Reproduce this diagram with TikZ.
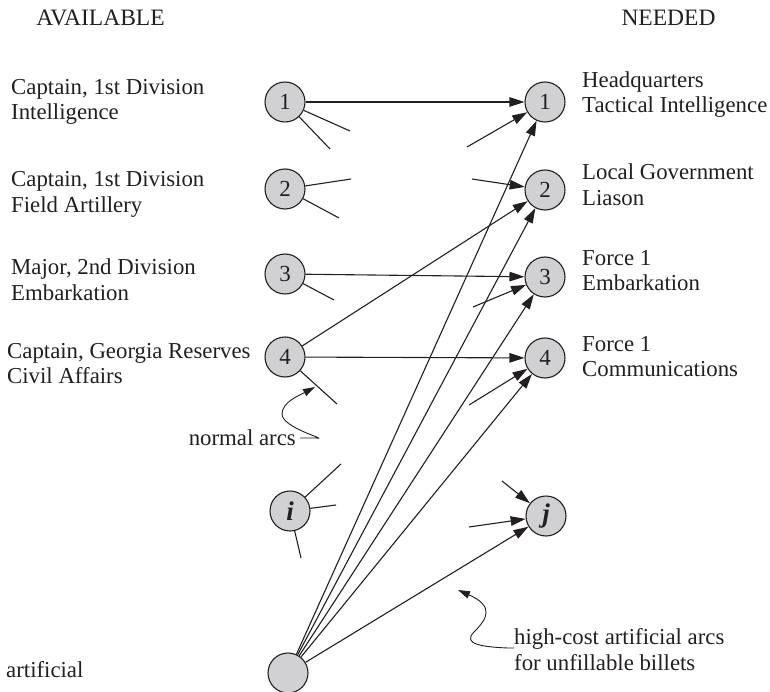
\documentclass[tikz,border=0pt]{standalone}
\usepackage{fontspec}
\setmainfont{Liberation Serif}
\usetikzlibrary{arrows.meta}
\definecolor{nodegray}{RGB}{209,209,211}
\definecolor{ink}{RGB}{35,31,32}
\begin{document}
\begin{tikzpicture}[x=1pt,y=-1pt,
  vert/.style={circle,draw=ink,fill=nodegray,line width=1.1pt,minimum size=40pt,inner sep=0pt,
    font=\fontsize{23}{23}\selectfont,text=ink},
  generic/.style={font=\fontsize{27}{27}\selectfont\bfseries\itshape},
  lab/.style={align=left,inner sep=0pt,text=ink,font=\fontsize{22.8}{25.5}\selectfont},
  head/.style={inner sep=0pt,text=ink,font=\fontsize{23.5}{25.5}\selectfont},
  stub/.style={draw=ink,line width=1.1pt},
  arc/.style={draw=ink,line width=1.1pt,-{Triangle[length=15pt,width=9.5pt]}},
  pointer/.style={draw=ink,line width=0.9pt,-{Triangle[length=12pt,width=7.5pt]}}]
\useasboundingbox (0,0) rectangle (770,692);

% column headings
\node[head] (hav) at (100.5,18) {AVAILABLE};
\node[head] (hnd) at (668.5,18) {NEEDED};

% available people
\node[vert] (L1) at (285,102) {1};
\node[vert] (L2) at (285,189) {2};
\node[vert] (L3) at (285,274) {3};
\node[vert] (L4) at (285,357) {4};
\node[vert,generic] (Li) at (290,511) {i};
\node[vert] (A)  at (288,673) {};

% needed billets
\node[vert] (R1) at (545,102) {1};
\node[vert] (R2) at (545,190) {2};
\node[vert] (R3) at (545,277) {3};
\node[vert] (R4) at (545,358) {4};
\node[vert,generic] (Rj) at (546,516) {j};

% left-hand labels
\node[lab,anchor=west] (t1) at (11,102) {Captain, 1st Division\\Intelligence};
\node[lab,anchor=west] (t2) at (11,194.5) {Captain, 1st Division\\Field Artillery};
\node[lab,anchor=west] (t3) at (11,279.5) {Major, 2nd Division\\Embarkation};
\node[lab,anchor=west] (t4) at (7,363.5) {Captain, Georgia Reserves\\Civil Affairs};
\node[lab,anchor=west] (ta) at (6,670) {artificial};

% right-hand labels
\node[lab,anchor=west] (u1) at (582,94.5) {Headquarters\\Tactical Intelligence};
\node[lab,anchor=west] (u2) at (582,184.5) {Local Government\\Liason};
\node[lab,anchor=west] (u3) at (582,270.5) {Force 1\\Embarkation};
\node[lab,anchor=west] (u4) at (582,356.5) {Force 1\\Communications};

% loose ends of arcs leaving the available side
\coordinate (a1) at (350,131); \coordinate (a2) at (330,149);
\coordinate (b1) at (351,179); \coordinate (b2) at (339,218);
\coordinate (c1) at (334,300);
\coordinate (d1) at (337,404);
\coordinate (e1) at (341,464); \coordinate (e2) at (336,505); \coordinate (e3) at (301,558);
% loose ends of arcs entering the needed side
\coordinate (p1) at (467,147);
\coordinate (p2) at (472,179);
\coordinate (p3) at (473,307);
\coordinate (p4) at (469,405);
\coordinate (q1) at (502,481); \coordinate (q2) at (469,527);

\draw[stub] (L1) -- (a1); \draw[stub] (L1) -- (a2);
\draw[stub] (L2) -- (b1); \draw[stub] (L2) -- (b2);
\draw[stub] (L3) -- (c1);
\draw[stub] (L4) -- (d1);
\draw[stub] (Li) -- (e1); \draw[stub] (Li) -- (e2); \draw[stub] (Li) -- (e3);

\draw[arc] (p1) -- (R1);
\draw[arc] (p2) -- (R2);
\draw[arc] (p3) -- (R3);
\draw[arc] (p4) -- (R4);
\draw[arc] (q1) -- (Rj);
\draw[arc] (q2) -- (Rj);

% normal arcs
\draw[arc] (L1) -- (R1);
\draw[arc] (L3) -- (R3);
\draw[arc] (L4) -- (R4);
\draw[arc] (L4) -- (R2);

% high-cost artificial arcs
\draw[arc] (A) -- (R1);
\draw[arc] (A) -- (R2);
\draw[arc] (A) -- (R3);
\draw[arc] (A) -- (R4);
\draw[arc] (A) -- (Rj);

% annotations with curly pointers
\node[lab,anchor=east] (nlab) at (296,438) {normal arcs};
\coordinate (ntip) at (315,387);
\draw[pointer] ([xshift=4pt]nlab.east) -- ++(16,0)
  .. controls (330,440) and (282,428) .. (282,414)
  .. controls (282,402) and (300,395) .. (ntip);

\node[lab,anchor=west] (hlab) at (514,649.5) {high-cost artificial arcs\\for unfillable billets};
\coordinate (htip) at (458,590);
\draw[pointer] (hlab.west |- 0,648) -- ++(-6,0)
  .. controls (482,647) and (462,644) .. (474,632)
  .. controls (488,618) and (494,606) .. (htip);
\end{tikzpicture}
\end{document}
